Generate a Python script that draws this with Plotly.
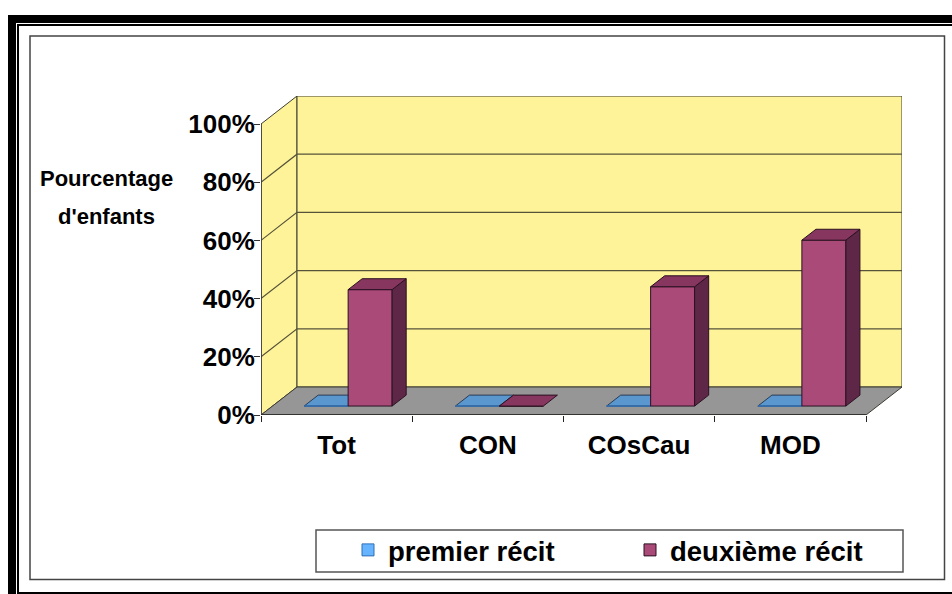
import plotly.graph_objects as go

categories = ["Tot", "CON", "COsCau", "MOD"]
series_names = ["premier récit", "deuxième récit"]
premier = [0, 0, 0, 0]
deuxieme = [40, 0, 41, 57]
y_ticks = [0, 20, 40, 60, 80, 100]

W, H = 952, 594
FONT = "Liberation Sans"

# projection of the pseudo-3D box, in axis units
DX, DY = 36 / 151.25, 28 / 2.91
X0, X1 = -0.5, len(categories) - 0.5
F_FRONT, F_BACK = 0.32, 0.71
BAR_W = 44 / 151.25


def proj(x, y, f):
    return x + f * DX, y + f * DY


def path(points):
    return "M" + " L".join(f"{a},{b}" for a, b in points) + " Z"


def px_x(v):
    return v / W


def px_y(v):
    return 1 - v / H


def paper_rect(x0, y0, x1, y1, **kw):
    return dict(type="rect", xref="paper", yref="paper", x0=px_x(x0), x1=px_x(x1),
                y0=px_y(y0), y1=px_y(y1), layer="below", **kw)


shapes = []
# outer borders
for r in [(8, 15, 952, 23), (8, 15, 16, 594), (17, 24, 952, 26), (17, 24, 19, 594), (17, 592, 952, 594)]:
    shapes.append(paper_rect(*r, fillcolor="black", line_width=0))
shapes.append(paper_rect(30, 36, 944.5, 579.5, fillcolor="white", line=dict(color="#444444", width=1.5)))

YMAX = 100
WALL = "#FFF399"
EDGE = "#3C3C32"


def data_shape(points, fill, lw=1.0, color=EDGE):
    return dict(type="path", xref="x", yref="y", path=path(points), fillcolor=fill,
                line=dict(color=color, width=lw), layer="below")


# left wall, back wall, floor
shapes.append(data_shape([proj(X0, 0, 0), proj(X0, 0, 1), proj(X0, YMAX, 1), proj(X0, YMAX, 0)], WALL))
shapes.append(data_shape([proj(X0, 0, 1), proj(X1, 0, 1), proj(X1, YMAX, 1), proj(X0, YMAX, 1)], WALL))
shapes.append(data_shape([proj(X0, 0, 0), proj(X1, 0, 0), proj(X1, 0, 1), proj(X0, 0, 1)], "#969696"))
# gridlines
for t in y_ticks[1:-1]:
    a, b, c = proj(X0, t, 0), proj(X0, t, 1), proj(X1, t, 1)
    shapes.append(dict(type="path", xref="x", yref="y", path=f"M{a[0]},{a[1]} L{b[0]},{b[1]} L{c[0]},{c[1]}",
                       line=dict(color="#55533A", width=1.2), layer="below"))
# axis lines
shapes.append(dict(type="line", xref="x", yref="y", x0=X0, x1=X0, y0=0, y1=YMAX,
                   line=dict(color="#333333", width=1.5), layer="below"))
shapes.append(dict(type="line", xref="x", yref="y", x0=X0, x1=X1, y0=0, y1=0,
                   line=dict(color="#222222", width=1.5), layer="below"))

BLUE, BLUE_TOP = "#66B3FF", "#5B97CF"
RED, RED_TOP, RED_SIDE = "#AA4A78", "#87365F", "#5F2747"
base = proj(0, 0, F_FRONT)[1]
x_shift = F_FRONT * DX

# tops of the blue bars sit behind the red fronts
for i, v in enumerate(premier):
    l, r = i + x_shift - BAR_W, i + x_shift
    pts = [(l, base + v), (r, base + v), (r + (F_BACK - F_FRONT) * DX, base + v + (F_BACK - F_FRONT) * DY),
           (l + (F_BACK - F_FRONT) * DX, base + v + (F_BACK - F_FRONT) * DY)]
    shapes.append(data_shape(pts, BLUE_TOP, 1.0, "#2B3C52"))

fig = go.Figure()
fig.add_trace(go.Bar(name=series_names[0], x=[i + x_shift - BAR_W / 2 for i in range(4)], y=premier,
                     base=[base] * 4, width=BAR_W, marker=dict(color=BLUE, line=dict(color="#2F6FB5", width=1))))
fig.add_trace(go.Bar(name=series_names[1], x=[i + x_shift + BAR_W / 2 for i in range(4)], y=deuxieme,
                     base=[base] * 4, width=BAR_W, marker=dict(color=RED, line=dict(color="#2A1020", width=1))))

ddx, ddy = (F_BACK - F_FRONT) * DX, (F_BACK - F_FRONT) * DY
for i, v in enumerate(deuxieme):
    l, r = i + x_shift, i + x_shift + BAR_W
    top = base + v
    if v > 0:
        sx = [r, r + ddx, r + ddx, r, r]
        sy = [base, base + ddy, top + ddy, top, base]
        fig.add_trace(go.Scatter(x=sx, y=sy, fill="toself", fillcolor=RED_SIDE, mode="lines",
                                 line=dict(color="#2A1020", width=1), showlegend=False, hoverinfo="skip"))
    tx = [l, r, r + ddx, l + ddx, l]
    ty = [top, top, top + ddy, top + ddy, top]
    fig.add_trace(go.Scatter(x=tx, y=ty, fill="toself", fillcolor=RED_TOP, mode="lines",
                             line=dict(color="#2A1020", width=1), showlegend=False, hoverinfo="skip"))

annotations = [
    dict(text="Pourcentage", x=px_x(106.5), y=px_y(178), xref="paper", yref="paper", showarrow=False,
         xanchor="center", yanchor="middle", font=dict(family=FONT, size=22, color="black", weight=700)),
    dict(text="d'enfants", x=px_x(106.5), y=px_y(216), xref="paper", yref="paper", showarrow=False,
         xanchor="center", yanchor="middle", font=dict(family=FONT, size=22, color="black", weight=700)),
]
shapes.append(dict(type="rect", xref="paper", yref="paper", x0=px_x(316), x1=px_x(903), y0=px_y(530), y1=px_y(572),
                   fillcolor="white", line=dict(color="#555555", width=1.5), layer="below"))

fig.update_layout(
    width=W, height=H, margin=dict(l=0, r=0, t=0, b=0, autoexpand=False), autosize=False,
    paper_bgcolor="white", plot_bgcolor="rgba(0,0,0,0)", barmode="overlay",
    shapes=shapes, annotations=annotations,
    font=dict(family=FONT, color="black"),
    xaxis=dict(domain=[px_x(261), px_x(902)], range=[X0, X1 + DX], showgrid=False, zeroline=False, automargin=False,
               tickmode="array", tickvals=list(range(4)), ticktext=categories, ticks="", showline=False,
               tickfont=dict(family=FONT, size=26, color="black", weight=700), ticklabelstandoff=12,
               minor=dict(tickmode="array", tickvals=[X0 + i for i in range(5)], ticks="outside", ticklen=6,
                          tickcolor="#222222", tickwidth=1, showgrid=False)),
    yaxis=dict(domain=[px_y(415), px_y(96)], range=[0, YMAX + DY], showgrid=False, zeroline=False, automargin=False,
               tickmode="array", tickvals=y_ticks, ticktext=[f"{t}%" for t in y_ticks], ticks="outside",
               ticklen=6, tickcolor="#333333", tickwidth=1, showline=False, ticklabelstandoff=-6,
               tickfont=dict(family=FONT, size=26, color="black", weight=700)),
    legend=dict(orientation="h", x=px_x(348), y=px_y(550), xanchor="left",
                yanchor="middle", bgcolor="rgba(0,0,0,0)",
                font=dict(family=FONT, size=27.5, color="black", weight=700), entrywidthmode="pixels", entrywidth=237,
                traceorder="normal"),
    hovermode=False,
)
fig.write_html("out.html", config={"displayModeBar": False},
               post_script="document.body.style.margin='0';document.documentElement.style.overflow='hidden';")
